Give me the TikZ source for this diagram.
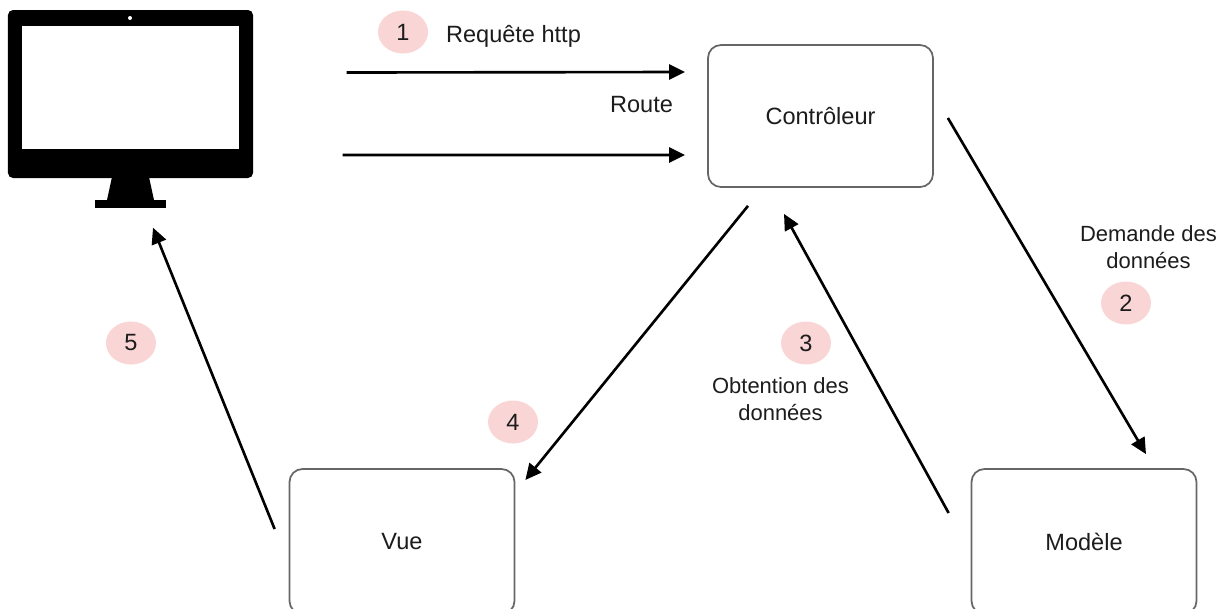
\documentclass[tikz,border=0pt]{standalone}
\usepackage{fontspec}
\setmainfont{Liberation Sans}
\usetikzlibrary{arrows.meta,shapes.geometric}
\definecolor{pastille}{HTML}{F9D5D5}
\definecolor{bord}{HTML}{666666}
\definecolor{texte}{HTML}{1C1C1C}
\tikzset{
	boite/.style={draw=bord,fill=white,line width=0.5pt,rounded corners=0.13cm,inner sep=0,minimum width=2.25cm,minimum height=1.42cm,text=texte},
	pastille/.style={ellipse,fill=pastille,inner sep=0,minimum width=0.5cm,minimum height=0.43cm,text=texte},
	legende/.style={align=center,text=texte,inner sep=0},
	fleche/.style={draw=black,line width=0.75pt,-{Triangle[length=0.16cm,width=0.15cm]}}
}
\begin{document}
\begin{tikzpicture}[font=\fontsize{6.7}{8}\selectfont]
		\useasboundingbox (0,0) rectangle (12.26,6.08);
		
		\node[fill=black,rounded corners=0.05cm,inner sep=0,minimum width=2.45cm,minimum height=1.68cm] (ecran) at (1.305,5.14) {};
		\path[fill=white] (0.22,4.59) rectangle (2.39,5.82);
		\path[fill=white] (1.30,5.90) circle (0.02);
		\path[fill=black] (1.12,4.31) -- (1.49,4.31) -- (1.54,4.08) -- (1.07,4.08) -- cycle;
		\path[fill=black] (0.95,4.00) rectangle (1.66,4.08);
		
		\node[boite] (controleur) at (8.205,4.92) {Contrôleur};
		\node[boite,minimum height=1.45cm] (vue) at (4.02,0.665) {Vue};
		\node[boite,minimum height=1.45cm] (modele) at (10.84,0.665) {Modèle};
		
		\node[pastille] (p1) at (4.03,5.76) {1};
		\node[pastille] (p2) at (11.26,3.05) {2};
		\node[pastille] (p3) at (8.06,2.65) {3};
		\node[pastille] (p4) at (5.13,1.86) {4};
		\node[pastille] (p5) at (1.31,2.65) {5};
		
		\node[legende] (requete) at (5.135,5.72) {Requête http};
		\node[legende] (route) at (6.415,5.035) {Route};
		\node[legende,font=\fontsize{6.25}{7.7}\selectfont] (demande) at (11.485,3.61) {Demande des\\données};
		\node[legende,font=\fontsize{6.25}{7.7}\selectfont] (obtention) at (7.805,2.09) {Obtention des\\données};
		
		\draw[fleche] ([shift={(0.93,0.215)}]ecran.east) -- ([shift={(-0.22,0.44)}]controleur.west);
		\draw[fleche] ([shift={(0.89,-0.61)}]ecran.east) -- ([shift={(-0.22,-0.39)}]controleur.west);
		\draw[fleche] ([shift={(0.14,-0.02)}]controleur.east) -- ([shift={(0.62,0.14)}]modele.north);
		\draw[fleche] ([shift={(-0.22,0.285)}]modele.west) -- ([shift={(-0.365,-0.26)}]controleur.south);
		\draw[fleche] ([shift={(-0.725,-0.18)}]controleur.south) -- ([shift={(0.10,0.615)}]vue.east);
		\draw[fleche] ([shift={(-0.14,0.125)}]vue.west) -- ([shift={(0.225,-0.49)}]ecran.south);
	\end{tikzpicture}
\end{document}
